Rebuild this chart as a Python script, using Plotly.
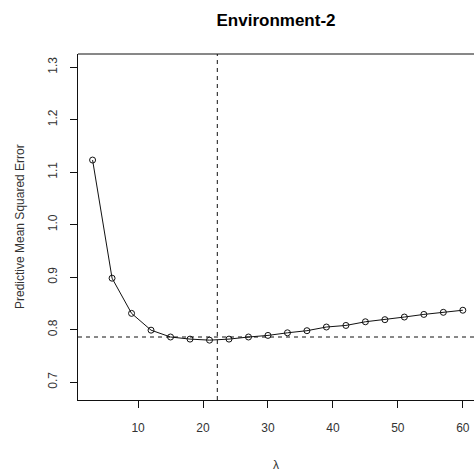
import plotly.graph_objects as go

lam = [3, 6, 9, 12, 15, 18, 21, 24, 27, 30, 33, 36, 39, 42, 45, 48, 51, 54, 57, 60]
pmse = [1.123, 0.898, 0.831, 0.799, 0.786, 0.782, 0.780, 0.782, 0.786, 0.789,
        0.794, 0.798, 0.805, 0.808, 0.815, 0.819, 0.824, 0.829, 0.833, 0.837]
best_lambda = 22.2
min_line = 0.786
x_ticks = [10, 20, 30, 40, 50, 60]
y_ticks = [0.7, 0.8, 0.9, 1.0, 1.1, 1.2, 1.3]
title_text = "Environment-2"
x_title = "λ"
y_title = "Predictive Mean Squared Error"

FONT = "Liberation Sans, Arial, sans-serif"

fig = go.Figure()
fig.add_trace(go.Scatter(
    x=lam, y=pmse, mode="lines+markers",
    line=dict(color="#111", width=1),
    marker=dict(symbol="circle-open", size=6, color="#111", line=dict(width=1, color="#111")),
    showlegend=False, hoverinfo="skip",
))

fig.add_hline(y=min_line, line=dict(color="#111", width=1, dash="4px,4px"))
fig.add_vline(x=best_lambda, line=dict(color="#111", width=1, dash="4px,4px"))
# top border of box
fig.add_shape(type="line", xref="paper", yref="paper", x0=0, x1=1, y0=1, y1=1,
              line=dict(color="#111", width=1))

fig.update_layout(
    width=474, height=475,
    margin=dict(l=78, r=0, t=54, b=75),
    paper_bgcolor="white", plot_bgcolor="white",
    font=dict(family=FONT, size=12, color="#222"),
    title=dict(text="<b>" + title_text + "</b>", x=0.5, xref="paper", xanchor="center",
               y=1 - 20 / 475, yanchor="middle", yref="container",
               font=dict(family=FONT, size=17, color="#000")),
    xaxis=dict(range=[0.755, 61.72], tickvals=x_ticks, ticktext=[str(v) for v in x_ticks],
               showgrid=False, zeroline=False, showline=True, linecolor="#111", linewidth=1,
               ticks="outside", ticklen=7, tickcolor="#111", tickwidth=1,
               ticklabelstandoff=10, tickfont=dict(size=12, color="#333")),
    yaxis=dict(range=[0.666, 1.325], tickvals=y_ticks, ticktext=[f"{v:.1f}" for v in y_ticks],
               showgrid=False, zeroline=False, showline=True, linecolor="#111", linewidth=1,
               ticks="outside", ticklen=7, tickcolor="#111", tickwidth=1, tickangle=-90,
               ticklabelstandoff=8, tickfont=dict(size=12, color="#333")),
    annotations=[
        dict(text=x_title, xref="paper", yref="paper", x=0.5, y=-(465 - 400) / 346,
             xanchor="center", yanchor="middle", showarrow=False,
             font=dict(family=FONT, size=12, color="#333")),
        dict(text=y_title, xref="paper", yref="paper", x=-(78 - 20) / 396, y=0.5,
             xanchor="center", yanchor="middle", textangle=-90, showarrow=False,
             font=dict(family=FONT, size=12, color="#333")),
    ],
)

fig.write_html("out.html", config={"displayModeBar": False},
               post_script="document.body.style.margin='0';document.body.style.overflow='hidden';")
